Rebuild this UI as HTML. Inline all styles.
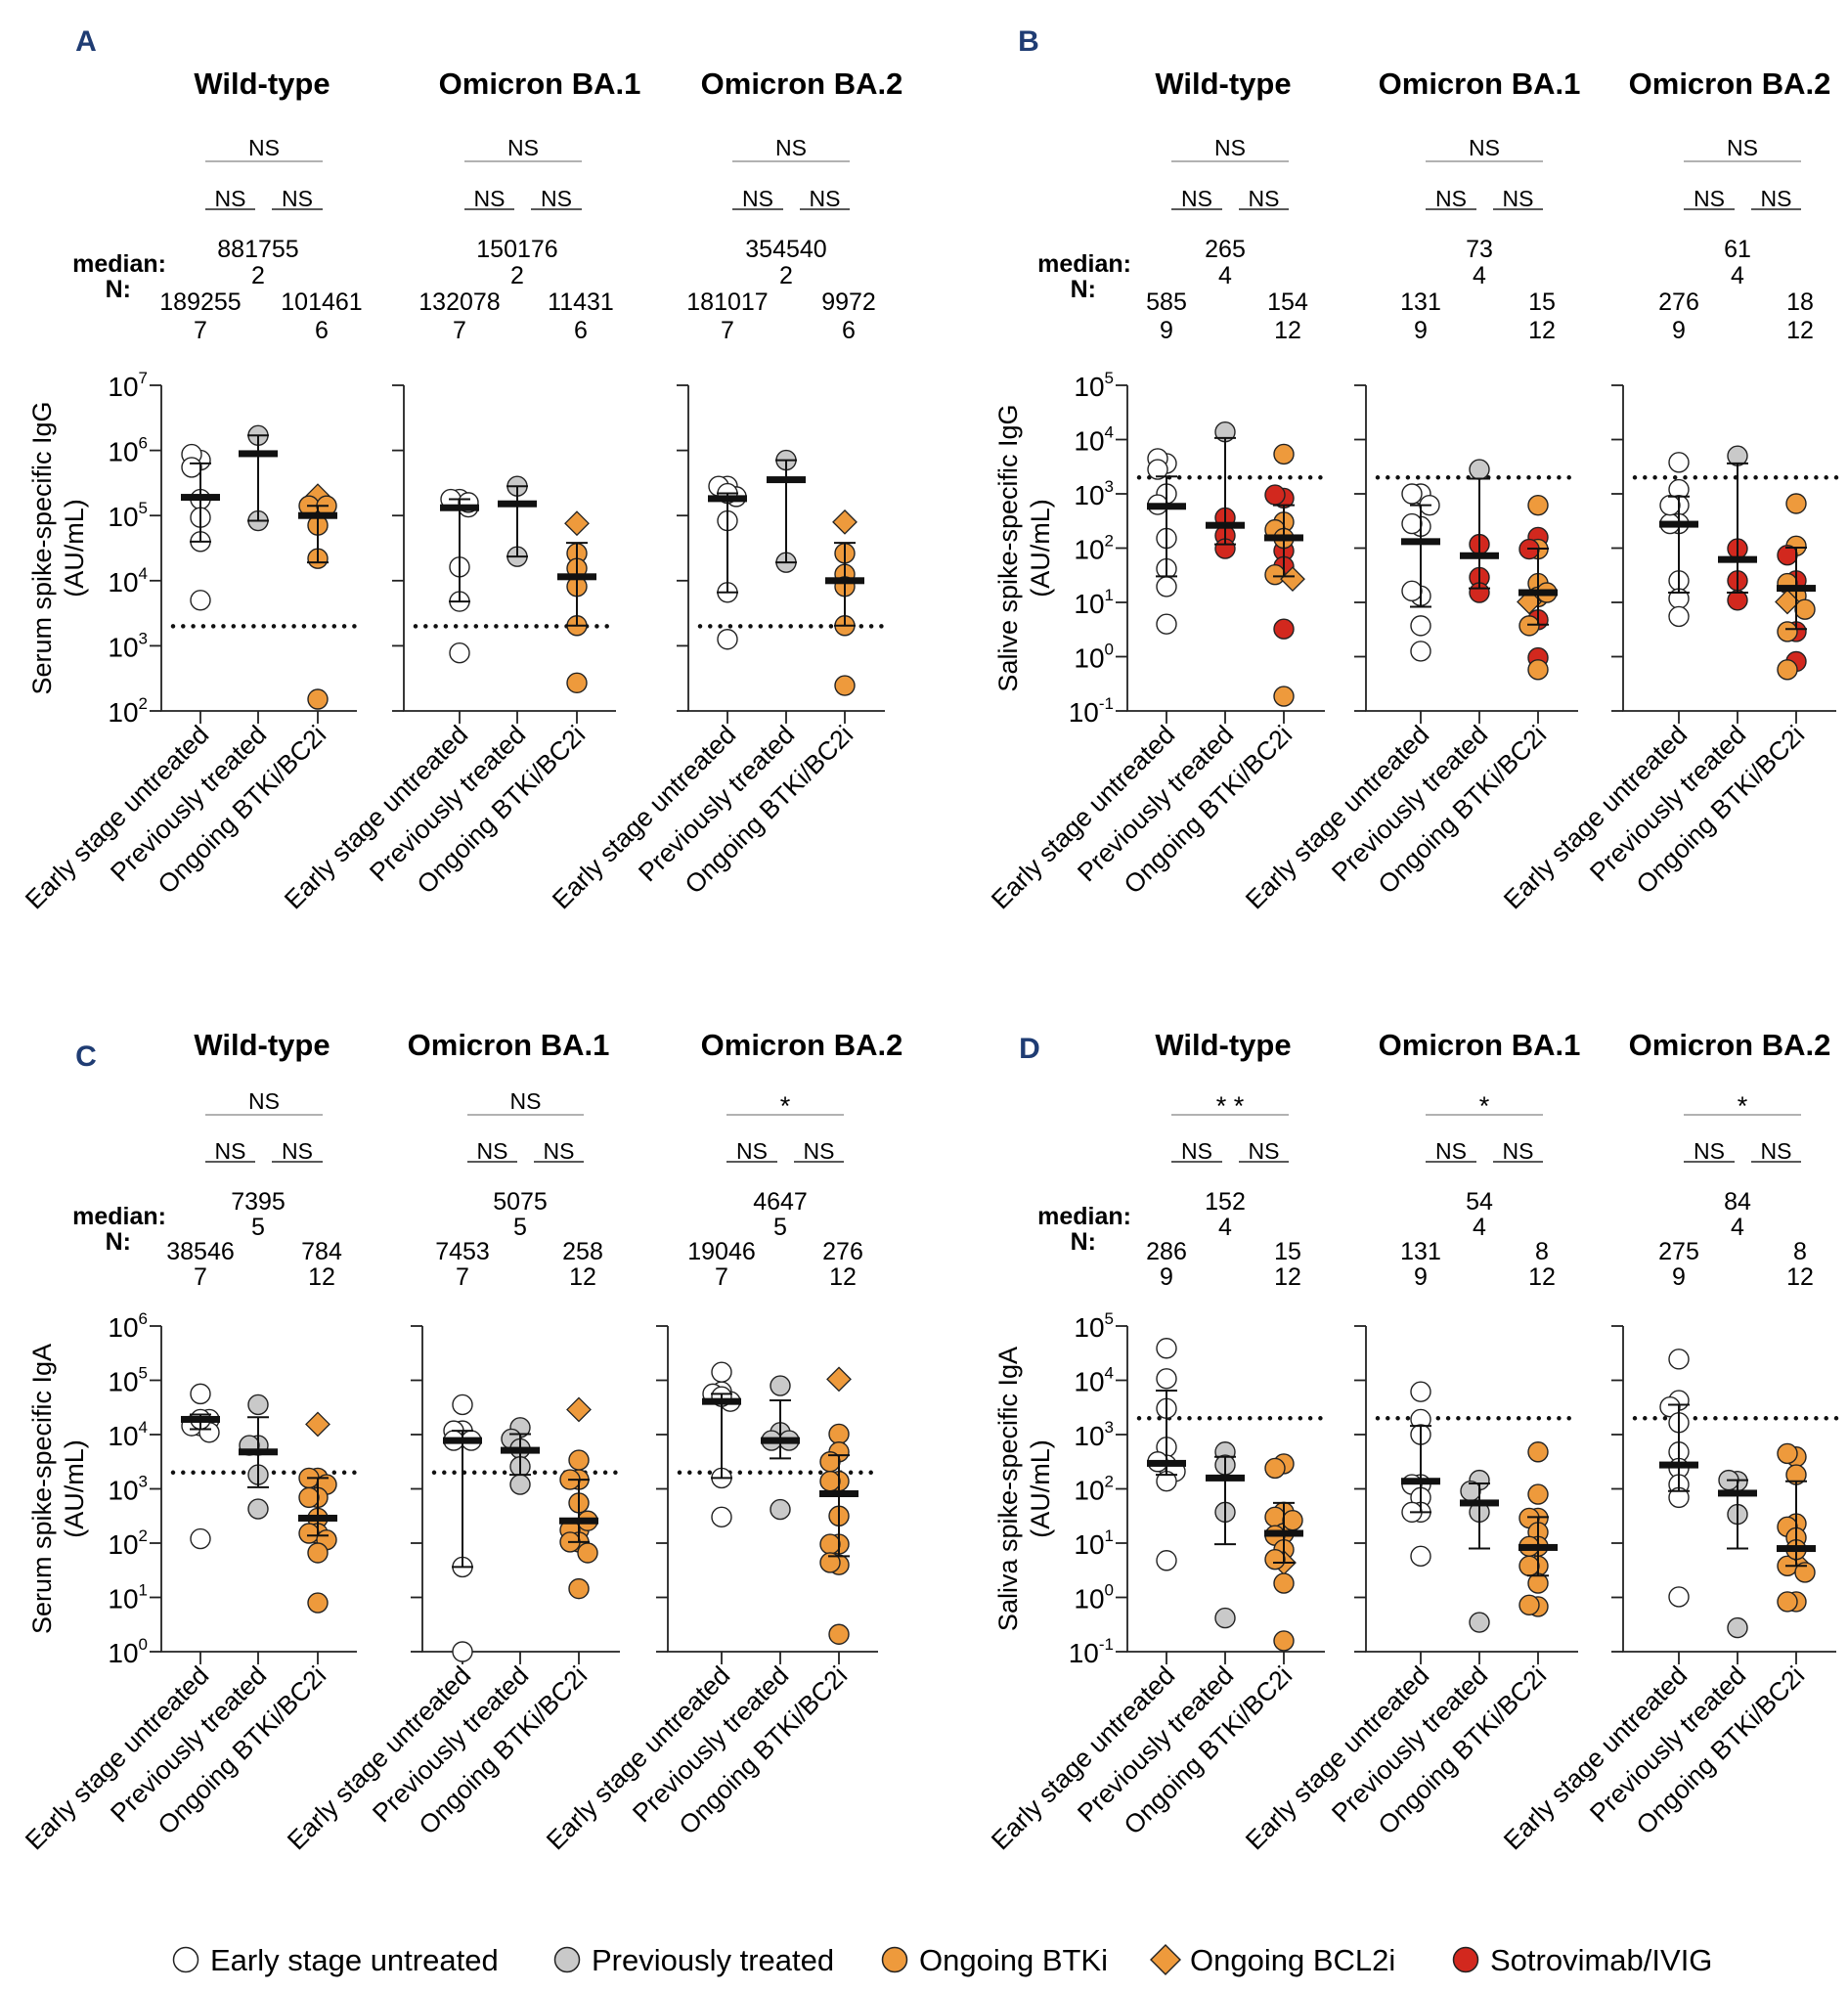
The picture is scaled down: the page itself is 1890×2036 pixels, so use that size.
<!DOCTYPE html>
<html><head><meta charset="utf-8"><style>
body{margin:0;background:#fff}
svg{display:block;font-family:"Liberation Sans",sans-serif}
</style></head><body>
<svg id="fig" width="1890" height="2036" viewBox="0 0 1890 2036"></svg>
<script>
// ===== DATA =====
// values are log10(AU/mL); groups: early, previous, ongoing
const A_vals=[[[5.85,5.94,5.74,5.25,4.97,4.6,3.7],[6.23,4.92],[5.3,5.15,5.15,4.85,4.34,2.18]],
[[5.25,5.25,5.13,4.21,3.68,2.89,5.2],[5.45,4.37],[4.88,4.42,4.19,3.91,3.31,2.43]],
[[5.45,5.45,5.29,4.92,3.82,3.1,5.34],[5.85,4.28],[4.9,4.42,4.1,3.91,3.31,2.39]]];
const A_types=[["wwwwwww","gg","dooooo"],["wwwwwww","gg","dooooo"],["wwwwwww","gg","dooooo"]];
const A_med=[[5.28,5.95,5.0],[5.12,5.18,4.06],[5.26,5.55,4.0]];
const A_lo=[[4.6,4.92,4.28],[3.68,4.37,3.31],[3.82,4.28,3.31]];
const A_hi=[[5.8,6.23,5.15],[5.25,5.45,4.58],[5.34,5.85,4.58]];
const A_medLabels=[["189255","881755","101461"],["132078","150176","11431"],["181017","354540","9972"]];
const A_nLabels=[["7","2","6"],["7","2","6"],["7","2","6"]];
const A_sigTop=["NS","NS","NS"];

const B_vals=[[[3.56,3.65,3.45,3.0,2.8,2.18,1.62,1.29,0.6],[4.14,2.56,2.23,1.99],[3.73,2.92,2.98,2.48,2.34,1.95,1.66,1.51,1.43,0.51,-0.73,2.18]],
[[3.0,3.0,2.79,2.4,2.45,1.12,1.21,0.57,0.1],[3.45,2.07,1.46,1.18],[2.79,2.2,1.98,1.98,1.35,1.1,1.01,0.68,0.57,-0.02,-0.24,1.18]],
[[3.58,3.08,2.79,2.45,2.45,1.4,1.07,0.74,2.79],[3.7,1.99,1.4,1.04],[2.82,2.04,1.87,1.4,1.35,1.12,1.01,0.87,0.46,0.46,-0.09,-0.24]]];
const B_types=[["wwwwwwwww","grrr","orroorrodroo"],["wwwwwwwww","grrr","ororoodroroo"],["wwwwwwwww","grrr","oorroodororo"]];
const B_med=[[2.77,2.42,2.19],[2.12,1.86,1.18],[2.44,1.79,1.26]];
const B_lo=[[1.48,2.07,1.48],[0.92,1.26,0.59],[1.18,1.18,0.51]];
const B_hi=[[3.32,4.03,2.79],[2.79,3.28,1.99],[2.95,3.56,2.01]];
const B_medLabels=[["585","265","154"],["131","73","15"],["276","61","18"]];
const B_nLabels=[["9","4","12"],["9","4","12"],["9","4","12"]];
const B_sigTop=["NS","NS","NS"];

const C_vals=[[[4.75,4.16,4.16,4.28,4.04,2.08,4.28],[4.55,3.8,3.8,3.26,2.63],[4.19,3.2,3.2,3.08,2.84,2.84,2.46,2.18,2.18,2.06,1.82,0.9]],
[[4.55,4.07,4.07,3.89,3.89,1.56,0.0],[4.13,3.92,3.74,3.41,3.08],[4.46,3.53,3.17,3.17,2.74,2.24,2.24,2.41,2.02,2.02,1.82,1.16]],
[[5.15,4.79,4.75,4.61,3.2,2.48,4.7],[4.9,4.04,3.89,3.89,2.62],[5.02,4.01,3.68,3.5,3.14,3.14,2.5,1.98,1.98,1.6,1.64,0.32]]];
const C_types=[["wwwwwww","ggggg","dooooooooooo"],["wwwwwww","ggggg","dooooooooooo"],["wwwwwww","ggggg","dooooooooooo"]];
const C_med=[[4.28,3.68,2.46],[3.89,3.71,2.41],[4.61,3.89,2.91]];
const C_lo=[[4.1,3.03,2.14],[1.56,3.26,2.02],[3.2,3.56,1.76]];
const C_hi=[[4.37,4.32,3.2],[4.07,4.01,3.17],[4.75,4.63,3.62]];
const C_medLabels=[["38546","7395","784"],["7453","5075","258"],["19046","4647","276"]];
const C_nLabels=[["7","5","12"],["7","5","12"],["7","5","12"]];
const C_sigTop=["NS","NS","*"];

const D_vals=[[[4.59,4.03,3.48,2.77,2.44,2.5,2.32,2.14,0.68],[2.68,2.44,1.57,-0.38],[2.46,2.38,1.57,1.48,1.18,1.14,0.88,0.64,0.7,0.26,-0.8,1.42]],
[[3.79,3.28,3.0,2.08,2.08,1.84,1.57,1.57,0.76],[2.16,1.96,1.57,-0.46],[2.68,1.9,1.46,1.46,1.2,0.94,0.94,0.58,0.58,0.26,-0.17,-0.14]],
[[4.39,3.63,3.51,3.22,2.68,2.38,2.08,1.84,0.01],[2.14,2.16,1.53,-0.56],[2.59,2.65,2.26,1.36,1.3,1.1,0.64,0.58,0.88,0.46,-0.08,-0.08]]];
const D_types=[["wwwwwwwww","gggg","ooooooodoooo"],["wwwwwwwww","gggg","oooooooooooo"],["wwwwwwwww","gggg","oooooodooooo"]];
const D_med=[[2.47,2.2,1.18],[2.14,1.74,0.92],[2.44,1.92,0.9]];
const D_lo=[[2.26,0.98,0.64],[1.57,0.9,0.4],[1.96,0.9,0.58]];
const D_hi=[[3.81,2.59,1.74],[3.16,2.1,1.48],[3.55,2.16,2.14]];
const D_medLabels=[["286","152","15"],["131","54","8"],["275","84","8"]];
const D_nLabels=[["9","4","12"],["9","4","12"],["9","4","12"]];
const D_sigTop=["**","*","*"];

const titles=["Wild-type","Omicron BA.1","Omicron BA.2"];
const categories=["Early stage untreated","Previously treated","Ongoing BTKi/BC2i"];
const thresholdLog=Math.log10(2000);

// ===== DRAW =====
const NS="http://www.w3.org/2000/svg";
const svg=document.getElementById('fig');
function mk(tag,attrs,parent,text){const e=document.createElementNS(NS,tag);for(const k in attrs)e.setAttribute(k,attrs[k]);if(text!==undefined)e.textContent=text;(parent||svg).appendChild(e);return e;}
const FILL={w:'#ffffff',g:'#c9c9c9',o:'#ee9a3c',d:'#ee9a3c',r:'#d2281e'};

function panel(cfg){
  const g=mk('g',{});
  
  
  const L=mk('text',{x:cfg.letterX,y:cfg.letterY,'font-size':30,'font-weight':'bold',fill:'#1f3c73','text-anchor':'middle'},g,cfg.letter);
  
  const yT=cfg.yTop,yB=cfg.yBot,lmin=cfg.lmin,lmax=cfg.lmax;
  const Y=v=>yB-(v-lmin)/(lmax-lmin)*(yB-yT);
  const ml=mk('text',{x:cfg.medX,y:cfg.rowY[0]+24,'font-size':25,'font-weight':'bold','text-anchor':'end'},g,'median:');
  
  const nl=mk('text',{x:cfg.nX,y:cfg.rowY[0]+50,'font-size':25,'font-weight':'bold','text-anchor':'end'},g,'N:');
  
  const yt=mk('text',{transform:`translate(${cfg.ytX},${(yT+yB)/2}) rotate(-90)`,'font-size':27,'text-anchor':'middle'},g);
  
  mk('tspan',{x:0,dy:0},yt,cfg.ytitle);mk('tspan',{x:0,dy:33},yt,'(AU/mL)');
  cfg.subs.forEach((s,si)=>{
    const sg=mk('g',{},g);
    
    
    const t=mk('text',{x:s.tx,y:cfg.titleY,'font-size':31,'font-weight':'bold','text-anchor':'middle'},sg,titles[si]);
    
    const gx=s.g;
    const x1=gx[0]+5,x3=gx[2]+5,x2=gx[1];
    mk('line',{x1:x1,x2:x3,y1:cfg.sigY+14,y2:cfg.sigY+14,stroke:'#999','stroke-width':1.5},sg);
    const st=mk('text',{x:(x1+x3)/2,y:cfg.sigY+(cfg.sigTop[si]==='NS'?8:14),'font-size':cfg.sigTop[si]==='NS'?23:27,'text-anchor':'middle'},sg,cfg.sigTop[si].split('').join(cfg.sigTop[si]==='NS'?'':' '));
    
    [[x1,x2-3],[x2+14,x3]].forEach((p,pi)=>{
      mk('line',{x1:p[0],x2:p[1],y1:cfg.sig2Y+11,y2:cfg.sig2Y+11,stroke:'#222','stroke-width':1.5},sg);
      const s2=mk('text',{x:(p[0]+p[1])/2,y:cfg.sig2Y+8,'font-size':23,'text-anchor':'middle'},sg,'NS');
      
    });
    const ml=cfg.medLabels[si],nl=cfg.nLabels[si];
    [[1,0,1],[0,2,3],[2,2,3]].forEach(([gi,r1,r2])=>{
      const a=mk('text',{x:gx[gi]+(gi===2?4:0),y:cfg.rowY[r1]+9,'font-size':25,'text-anchor':'middle'},sg,ml[gi]);
      
      const b=mk('text',{x:gx[gi]+(gi===2?4:0),y:cfg.rowY[r2]+9,'font-size':25,'text-anchor':'middle'},sg,nl[gi]);
      
    });
    const ax=mk('path',{d:`M${s.ax},${yT}V${yB}H${s.end}`,fill:'none',stroke:'#222','stroke-width':1.8},sg);
    
    for(let d=lmin;d<=lmax;d++){
      mk('line',{x1:s.ax-12,x2:s.ax,y1:Y(d),y2:Y(d),stroke:'#222','stroke-width':1.8},sg);
      if(si===0){
        const tl=mk('text',{x:s.ax-14,y:Y(d)+11,'font-size':28,'text-anchor':'end'},sg);
        
        mk('tspan',{},tl,'10');mk('tspan',{dy:-13,'font-size':17},tl,String(d));
      }
    }
    gx.forEach((x,ci)=>{
      mk('line',{x1:x,x2:x,y1:yB,y2:yB+13,stroke:'#222','stroke-width':1.8},sg);
      const xl=mk('text',{transform:`translate(${x+10},${yB+26}) rotate(-45)`,'font-size':26.5,'text-anchor':'end'},sg,categories[ci]);
      
    });
    const th=mk('line',{x1:s.ax+12,x2:s.end,y1:Y(thresholdLog),y2:Y(thresholdLog),stroke:'#111','stroke-width':4.5,'stroke-linecap':'round','stroke-dasharray':'0 10.3'},sg);
    
    cfg.vals[si].forEach((vals,gi)=>{
      const types=cfg.types[si][gi];const placed=[];
      vals.forEach((v,pi)=>{
        const py=Y(v);
        const tries=[0,-9,9];let best=0,bestD=-1;
        for(const o of tries){
          const dmin=placed.length?Math.min(...placed.map(p=>Math.hypot(p[0]-o,p[1]-py))):1e9;
          if(dmin>=12){best=o;bestD=dmin;break;}
          if(dmin>bestD){bestD=dmin;best=o;}
        }
        placed.push([best,py]);
        const px=gx[gi]+best,tp=types[pi];
        let m;
        if(tp==='d') m=mk('path',{d:`M${px},${py-12}L${px+12},${py}L${px},${py+12}L${px-12},${py}Z`,fill:FILL.d,stroke:'#222','stroke-width':1.3},sg);
        else m=mk('circle',{cx:px,cy:py,r:10,fill:FILL[tp],stroke:'#222','stroke-width':1.4},sg);
        
        
      });
      const x=gx[gi],lo=Y(cfg.lo[si][gi]),hi=Y(cfg.hi[si][gi]),md=Y(cfg.med[si][gi]);
      const eb=mk('path',{d:`M${x},${lo}V${hi}M${x-11},${lo}H${x+11}M${x-11},${hi}H${x+11}`,stroke:'#111','stroke-width':2,fill:'none'},sg);
      
      const mb=mk('rect',{x:x-20,y:md-3.5,width:40,height:7,fill:'#111'},sg);
      
    });
  });
}
const subsA=[{ax:165,g:[205,264,325],end:365,tx:268},{ax:413,g:[470,529,590],end:630,tx:552},{ax:704,g:[744,804,864],end:905,tx:820}];
const subsB=[{ax:1153,g:[1193,1253,1313],end:1355,tx:1251},{ax:1397,g:[1453,1513,1573],end:1614,tx:1513},{ax:1660,g:[1717,1777,1837],end:1878,tx:1769}];
const subsC=[{ax:165,g:[205,264,325],end:365,tx:268},{ax:432,g:[473,532,592],end:634,tx:520},{ax:683,g:[738,798,858],end:898,tx:820}];
const topRows=[254,281,308,337],botRows=[1228,1254,1279,1305];
panel({letter:'A',letterX:88,letterY:52,titleY:96,sigY:151,sig2Y:203,rowY:topRows,medX:170,nX:134,ytX:52,ytitle:'Serum spike-specific IgG',yTop:394,yBot:727,lmin:2,lmax:7,subs:subsA,vals:A_vals,types:A_types,med:A_med,lo:A_lo,hi:A_hi,medLabels:A_medLabels,nLabels:A_nLabels,sigTop:A_sigTop});
panel({letter:'B',letterX:1052,letterY:52,titleY:96,sigY:151,sig2Y:203,rowY:topRows,medX:1157,nX:1121,ytX:1040,ytitle:'Salive spike-specific IgG',yTop:394,yBot:727,lmin:-1,lmax:5,subs:subsB,vals:B_vals,types:B_types,med:B_med,lo:B_lo,hi:B_hi,medLabels:B_medLabels,nLabels:B_nLabels,sigTop:B_sigTop});
panel({letter:'C',letterX:88,letterY:1090,titleY:1079,sigY:1126,sig2Y:1177,rowY:botRows,medX:170,nX:134,ytX:52,ytitle:'Serum spike-specific IgA',yTop:1356,yBot:1689,lmin:0,lmax:6,subs:subsC,vals:C_vals,types:C_types,med:C_med,lo:C_lo,hi:C_hi,medLabels:C_medLabels,nLabels:C_nLabels,sigTop:C_sigTop});
panel({letter:'D',letterX:1053,letterY:1082,titleY:1079,sigY:1126,sig2Y:1177,rowY:botRows,medX:1157,nX:1121,ytX:1040,ytitle:'Saliva spike-specific IgA',yTop:1356,yBot:1689,lmin:-1,lmax:5,subs:subsB,vals:D_vals,types:D_types,med:D_med,lo:D_lo,hi:D_hi,medLabels:D_medLabels,nLabels:D_nLabels,sigTop:D_sigTop});

const legendLabels=["Early stage untreated","Previously treated","Ongoing BTKi","Ongoing BCL2i","Sotrovimab/IVIG"];
const legendTypes=["w","g","o","d","r"];
const legendX=[190,580,915,1192,1499];
const lg=mk('g',{});

legendLabels.forEach((lab,i)=>{
  const e=mk('g',{},lg);
  
  const x=legendX[i],y=2004,t=legendTypes[i];
  if(t==='d') mk('path',{d:`M${x},${y-15}L${x+15},${y}L${x},${y+15}L${x-15},${y}Z`,fill:FILL.d,stroke:'#222','stroke-width':1.4},e);
  else mk('circle',{cx:x,cy:y,r:12.5,fill:FILL[t],stroke:'#222','stroke-width':1.5},e);
  mk('text',{x:x+25,y:y+11,'font-size':31},e,lab);
});
</script>
</body></html>
